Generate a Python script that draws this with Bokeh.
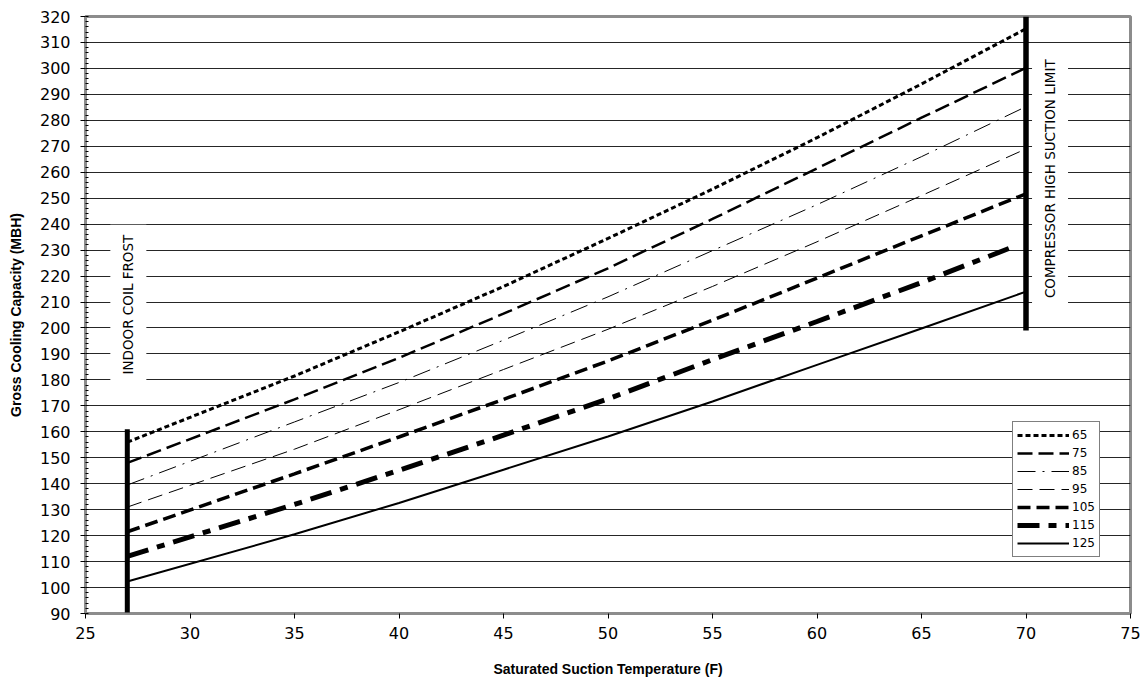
from bokeh.plotting import figure
from bokeh.models import Range1d, SingleIntervalTicker, Label
from bokeh.embed import file_html
from bokeh.resources import INLINE
import math

# ---- data ----
temps = [27, 35, 40, 45, 50, 55, 60, 65, 70]
temps_85 = [27, 35, 40, 45, 50, 55, 60, 65, 69.8]
temps_115 = [27, 35, 40, 45, 50, 55, 60, 65, 69.3]

cap_65 = [156, 181.5, 198.5, 216, 234.5, 253.5, 273.3, 294, 315.3]
cap_75 = [148, 172.5, 188.5, 205.5, 223, 242, 261.5, 281, 300.2]
cap_85 = [139.5, 163.8, 179, 195.3, 212, 229.8, 247.5, 266, 284.5]
cap_95 = [131, 153.3, 168.5, 184, 199.5, 216, 233.2, 251, 269]
cap_105 = [121.5, 143.8, 158, 172.5, 187.3, 203, 219.2, 235.5, 251.7]
cap_115 = [112, 132, 145.2, 158.7, 172.7, 187.8, 202.5, 217.5, 231]
cap_125 = [102.3, 120.5, 132.6, 145.4, 158.2, 171.7, 185.8, 199.8, 214]

series_names = ["65", "75", "85", "95", "105", "115", "125"]

frost_x = [27, 27]
frost_y = [90, 161]
limit_x = [70, 70]
limit_y = [199, 320]
frost_text = "INDOOR COIL FROST"
limit_text = "COMPRESSOR HIGH SUCTION LIMIT"
frost_label_pos = (27.05, 209)
limit_label_pos = (71.15, 257.5)

x_title = "Saturated Suction Temperature (F)"
y_title = "Gross Cooling Capacity (MBH)"

# ---- figure ----
p = figure(width=1142, height=682, output_backend="svg", toolbar_location=None,
           x_range=Range1d(25, 75), y_range=Range1d(90, 320),
           frame_width=1045, frame_height=597,
           min_border_left=85, min_border_right=12, min_border_top=16, min_border_bottom=69)
p.background_fill_color = "white"
p.border_fill_color = "white"
p.outline_line_color = "#8c8c8c"
p.outline_line_width = 3

p.xaxis.ticker = SingleIntervalTicker(interval=5, num_minor_ticks=0)
p.yaxis.ticker = SingleIntervalTicker(interval=10, num_minor_ticks=5)

p.xgrid.grid_line_color = None
p.ygrid.grid_line_color = "black"
p.ygrid.grid_line_width = 1
p.ygrid.grid_line_alpha = 0.85

for ax in (p.xaxis, p.yaxis):
    ax.axis_line_color = "#8c8c8c"
    ax.axis_line_width = 2
    ax.major_tick_line_color = "black"
    ax.major_tick_out = 5
    ax.major_tick_in = 0
    ax.major_label_text_font = "DejaVu Sans"
    ax.major_label_text_font_size = "16px"
    ax.major_label_text_color = "black"
    ax.axis_label_text_font = "Liberation Sans"
    ax.axis_label_text_font_style = "bold"
    ax.axis_label_text_font_size = "14px"
    ax.axis_label_text_color = "black"

p.xaxis.minor_tick_line_color = None
p.xaxis.major_label_standoff = 8
p.xaxis.axis_label = x_title
p.xaxis.axis_label_standoff = 19

p.yaxis.minor_tick_line_color = "black"
p.yaxis.minor_tick_in = 3
p.yaxis.minor_tick_out = 0
p.yaxis.major_label_standoff = 10
p.yaxis.axis_label = y_title
p.yaxis.axis_label_standoff = 13

styles = [
    (temps, cap_65, 3, "5 3"),
    (temps, cap_75, 2.5, "15 6"),
    (temps_85, cap_85, 1, "18 7 2 7"),
    (temps, cap_95, 1, "15 7"),
    (temps, cap_105, 3.5, "13 6"),
    (temps_115, cap_115, 5, "22 9 8 9"),
    (temps, cap_125, 2, "solid"),
]
for name, (xs, ys, w, dash) in zip(series_names, styles):
    p.line(xs, ys, line_color="black", line_width=w, line_dash=dash, legend_label=name)

p.line(frost_x, frost_y, line_color="black", line_width=5)
p.line(limit_x, limit_y, line_color="black", line_width=5.5)

for txt, (lx, ly) in ((frost_text, frost_label_pos), (limit_text, limit_label_pos)):
    p.add_layout(Label(x=lx, y=ly, text=txt, angle=math.pi / 2,
                       text_align="center", text_baseline="middle",
                       text_font="DejaVu Sans", text_font_size="13.5px", text_color="black",
                       background_fill_color="white", background_fill_alpha=1.0,
                       padding=10))

lg = p.legend[0]
lg.location = (927, 56)
lg.margin = 0
lg.padding = 4
lg.spacing = 0
lg.glyph_width = 52
lg.glyph_height = 18
lg.label_height = 18
lg.label_standoff = 3
lg.label_text_font = "DejaVu Sans"
lg.label_text_font_size = "12px"
lg.label_text_color = "black"
lg.border_line_color = "black"
lg.border_line_width = 1
lg.background_fill_color = "white"
lg.background_fill_alpha = 1.0

open("out.html", "w").write(file_html(p, INLINE))
